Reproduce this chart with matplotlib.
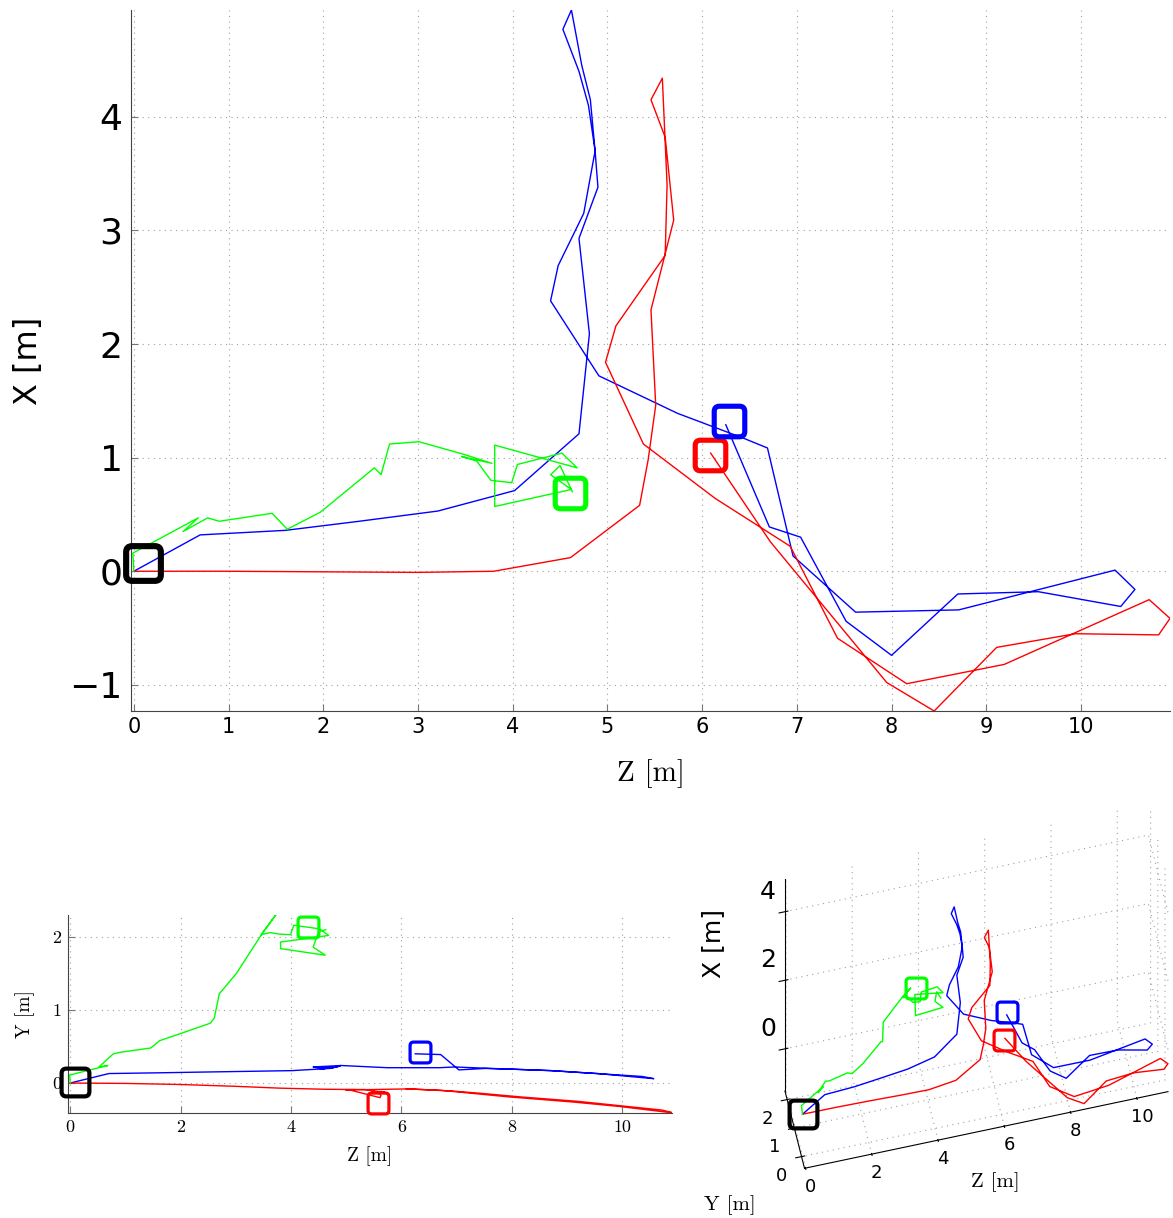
import numpy as np
import matplotlib
matplotlib.use("Agg")
import matplotlib.pyplot as plt
from matplotlib.markers import MarkerStyle
from matplotlib.patches import FancyBboxPatch
from matplotlib.transforms import ScaledTranslation

plt.rcParams['grid.linestyle'] = (0, (1, 4))
plt.rcParams['grid.color'] = '#a0a0a0'
plt.rcParams['grid.linewidth'] = 0.8
plt.rcParams['axes.unicode_minus'] = True

# trajectories (Z, X, Y) in metres
blue_z = [0.00, 0.70, 1.60, 2.38, 3.21, 4.02, 4.70, 4.81, 4.70, 4.90, 4.87, 4.82, 4.73, 4.62, 4.53,
          4.70, 4.80, 4.87, 4.75, 4.48, 4.40, 4.91, 5.74, 6.44, 6.69, 6.96, 7.62, 8.71, 10.36,
          10.57, 10.42, 9.55, 8.70, 8.00, 7.52, 7.04, 6.71, 6.25]
blue_x = [0.00, 0.32, 0.36, 0.44, 0.53, 0.71, 1.21, 2.09, 2.93, 3.38, 3.70, 4.15, 4.45, 4.94, 4.77,
          4.40, 4.10, 3.70, 3.15, 2.69, 2.38, 1.72, 1.39, 1.17, 1.085, 0.135, -0.36, -0.34, 0.01,
          -0.16, -0.31, -0.18, -0.20, -0.74, -0.44, 0.30, 0.39, 1.29]
blue_y = [0.00, 0.13, 0.14, 0.15, 0.16, 0.17, 0.20, 0.22, 0.20, 0.24, 0.23, 0.22, 0.21, 0.20, 0.19,
          0.21, 0.22, 0.23, 0.22, 0.21, 0.22, 0.24, 0.21, 0.21, 0.21, 0.22, 0.20, 0.17, 0.09,
          0.06, 0.07, 0.13, 0.17, 0.19, 0.20, 0.18, 0.39, 0.40]

red_z = [0.00, 1.00, 2.00, 3.00, 3.80, 4.61, 5.34, 5.43, 5.51, 5.46, 5.70, 5.61, 5.46, 5.58, 5.63,
         5.61, 5.09, 4.98, 5.38, 6.14, 6.93, 7.43, 8.16, 9.19, 10.72, 10.94, 10.82, 9.94, 9.11,
         8.45, 7.95, 6.72, 6.09]
red_x = [0.00, 0.00, -0.005, -0.01, 0.00, 0.12, 0.58, 0.98, 1.46, 2.30, 3.09, 3.82, 4.15, 4.34, 3.40,
         2.78, 2.16, 1.84, 1.12, 0.64, 0.22, -0.59, -0.99, -0.82, -0.25, -0.415, -0.56, -0.55, -0.67,
         -1.23, -0.98, 0.26, 1.04]
red_y = [0.00, -0.005, -0.02, -0.045, -0.07, -0.085, -0.09, -0.10, -0.10, -0.11, -0.12, -0.12, -0.13,
         -0.13, -0.17, -0.20, -0.10, -0.09, -0.09, -0.08, -0.11, -0.14, -0.19, -0.25, -0.37, -0.41,
         -0.40, -0.32, -0.26, -0.22, -0.19, -0.10, -0.08]

green_z = [0.00, -0.01, 0.68, 0.52, 0.78, 0.90, 1.46, 1.62, 1.97, 2.54, 2.61, 2.70, 3.01, 3.48,
           3.78, 3.46, 3.62, 3.77, 3.99, 4.05, 4.52, 4.68, 3.81, 3.81, 4.62, 4.40, 4.50, 4.63]
green_x = [0.00, 0.16, 0.47, 0.35, 0.47, 0.44, 0.51, 0.37, 0.52, 0.91, 0.85, 1.12, 1.14, 1.03,
           0.95, 1.01, 0.97, 0.80, 0.78, 0.94, 1.04, 0.91, 1.11, 0.57, 0.72, 0.85, 0.93, 0.70]
green_y = [0.00, 0.11, 0.24, 0.22, 0.40, 0.42, 0.48, 0.58, 0.67, 0.82, 0.89, 1.22, 1.50, 2.05,
           2.36, 2.03, 2.06, 2.04, 2.03, 2.16, 2.11, 2.02, 1.93, 1.84, 1.75, 1.86, 2.07, 2.10]

# square markers: black, green, red, blue
sq_colors = ['black', '#00ff00', 'red', 'blue']
sq_top_z = [0.10, 4.61, 6.08, 6.28]
sq_top_x = [0.07, 0.69, 1.02, 1.32]
sq_side_z = [0.08, 4.30, 5.58, 6.33]
sq_side_y = [0.02, 2.13, -0.27, 0.43]
sq_3d_z = [0.00, 3.88, 6.07, 6.25]
sq_3d_y = [0.00, 2.13, -0.08, 0.43]
sq_3d_x = [0.00, 1.12, 1.00, 1.36]

# axis ranges and ticks
z_lim = (-0.03, 10.94)
x_lim = (-1.23, 4.94)
y_lim = (-0.41, 2.30)
ticks_3d_z = [0, 2, 4, 6, 8, 10]
ticks_3d_y = [0, 1, 2]
ticks_3d_x = [0, 2, 4]

tracks = [(blue_z, blue_x, blue_y, 'blue'),
          (red_z, red_x, red_y, 'red'),
          (green_z, green_x, green_y, '#00ff00')]

# square with rounded corners for the markers
rbox = FancyBboxPatch((-0.5, -0.5), 1, 1, boxstyle='round,pad=0,rounding_size=0.17').get_path()
sq = MarkerStyle(rbox, joinstyle='round')
serif = 'cmr10'

fig = plt.figure(figsize=(11.73, 12.18), dpi=100)

def style2d(ax, tick_col='#777777'):
    for s in ['top', 'right']:
        ax.spines[s].set_visible(False)
    for s in ['left', 'bottom']:
        ax.spines[s].set_color('#444444')
    ax.tick_params(direction='in', color=tick_col, length=5)
    ax.grid(True)
    ax.set_axisbelow(True)

# ---- top: Z vs X
ax1 = fig.add_axes([131/1173, 1-711/1218, 1039/1173, 701/1218])
for z, x, y, c in tracks:
    ax1.plot(z, x, color=c, lw=1.0)
for i, c in enumerate(sq_colors):
    big = i == 0
    ax1.plot(sq_top_z[i], sq_top_x[i], marker=sq, ms=25 if big else 22, mew=4.4 if big else 3.7,
             mfc='none', mec=c, zorder=5, clip_on=False)
ax1.set_xlim(*z_lim)
ax1.set_ylim(*x_lim)
ax1.set_xticks(range(0, 11))
ax1.set_yticks(range(-1, 5))
style2d(ax1)
ax1.tick_params(axis='x', labelsize=15, pad=4)
ax1.tick_params(axis='y', labelsize=26, pad=6)
ax1.set_xlabel('Z [m]', fontfamily=serif, fontsize=21, labelpad=16)
ax1.set_ylabel('X [m]', fontsize=23, labelpad=18)

# ---- bottom left: Z vs Y
ax2 = fig.add_axes([68/1173, 1-1113/1218, 604/1173, 198/1218])
for z, x, y, c in tracks:
    ax2.plot(z, y, color=c, lw=1.0)
for i, c in enumerate(sq_colors):
    big = i == 0
    ax2.plot(sq_side_z[i], sq_side_y[i], marker=sq, ms=20 if big else 15, mew=3.0 if big else 2.3,
             mfc='none', mec=c, zorder=5, clip_on=False)
ax2.set_xlim(-0.04, 10.9)
ax2.set_ylim(*y_lim)
ax2.set_xticks(range(0, 11, 2))
ax2.set_yticks([0, 1, 2])
style2d(ax2)
ax2.tick_params(labelsize=13, pad=5)
for lab in ax2.get_xticklabels() + ax2.get_yticklabels():
    lab.set_fontfamily(serif)
ax2.set_xlabel('Z [m]', fontfamily=serif, fontsize=14, labelpad=8)
ax2.set_ylabel('Y [m]', fontfamily=serif, fontsize=14, labelpad=12)

# ---- bottom right: 3D view
ax3 = fig.add_axes([0.6556, 0.0, 0.3444, 0.3727], projection='3d')
ax3.set_proj_type('ortho')
ax3.view_init(elev=66, azim=-103)
ax3.set_box_aspect((378, 88, 527), zoom=1.552)
for z, x, y, c in tracks:
    ax3.plot(z, y, x, color=c, lw=1.0, clip_on=False)
for i, c in enumerate(sq_colors):
    ax3.plot([sq_3d_z[i]], [sq_3d_y[i]], [sq_3d_x[i]], marker=sq, ms=20 if i == 0 else 15,
             mew=3.0 if i == 0 else 2.3, mfc='none', mec=c, ls='none', zorder=5, clip_on=False)
ax3.set_xlim(*z_lim)
ax3.set_ylim(*y_lim)
ax3.set_zlim(*x_lim)
ax3.set_xticks(ticks_3d_z)
ax3.set_yticks(ticks_3d_y)
ax3.set_zticks(ticks_3d_x)
ax3.tick_params(labelleft=False, labelbottom=False)
for a in (ax3.xaxis, ax3.yaxis, ax3.zaxis):
    a.set_pane_color((1, 1, 1, 0))
    a.line.set_color('black')
    a.set_major_formatter(plt.NullFormatter())
    a.label.set_visible(False)
    a.offsetText.set_visible(False)
    for t in a.get_major_ticks():
        t.label1.set_visible(False)
        t.label2.set_visible(False)

def shift(dx, dy):
    # pixel offset (dy positive = down) on top of the 3D data transform
    return ax3.transData + ScaledTranslation(dx / 100, -dy / 100, fig.dpi_scale_trans)

# tick labels placed MATLAB-style next to the 3D tick positions
for v in ticks_3d_z:
    ax3.text(v, y_lim[0], x_lim[0], str(v), fontsize=13, ha='center', va='center',
             transform=shift(5, 19))
for v in ticks_3d_y:
    ax3.text(z_lim[0], v, x_lim[0], str(v), fontsize=13, ha='center', va='center',
             transform=shift(-20, 19))
for v in ticks_3d_x:
    ax3.text(z_lim[0], y_lim[1], v, str(v), fontsize=18, ha='center', va='center',
             transform=shift(-17, -20))

fig.text(995/1173, 1-1182/1218, 'Z [m]', fontfamily=serif, fontsize=15, ha='center', va='center')
fig.text(730/1173, 1-1205/1218, 'Y [m]', fontfamily=serif, fontsize=15, ha='center', va='center')
fig.text(713/1173, 1-943/1218, 'X [m]', fontsize=18, rotation=90, ha='center', va='center')

fig.savefig('out.png', dpi=100)
